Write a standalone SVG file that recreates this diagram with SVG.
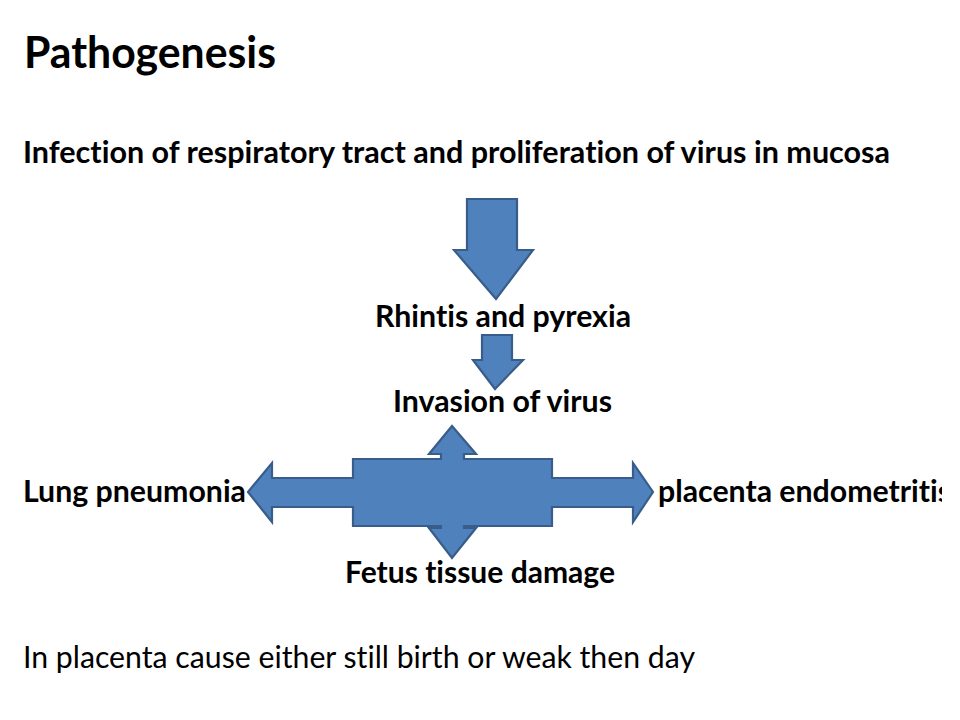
<svg xmlns="http://www.w3.org/2000/svg" width="960" height="720" viewBox="0 0 960 720">
  <defs>
    <style>
      .t { font-family: Lato, "Open Sans", "Liberation Sans", sans-serif; fill: #000; font-variant-ligatures: none; font-feature-settings: "liga" 0, "clig" 0; }
      .b { font-weight: bold; font-size: 31px; }
      .h { font-weight: bold; font-size: 44px; }
      .r { font-weight: normal; font-size: 31px; }
      .arrow { fill: #4F81BD; stroke: #385D8A; stroke-width: 2.2; stroke-linejoin: miter; }
    </style>
    <clipPath id="slideClip">
      <rect x="0" y="0" width="942" height="720"/>
    </clipPath>
  </defs>
  <rect x="0" y="0" width="960" height="720" fill="#ffffff"/>

  <g id="title">
    <text class="t h" x="24" y="68" textLength="252" lengthAdjust="spacingAndGlyphs">Pathogenesis</text>
  </g>

  <g id="connectors">
    <path class="arrow" d="M467,199 L517,199 L517,250 L533,250 L496,299 L454,250 L467,250 Z"/>
    <path class="arrow" d="M482,335 L512,335 L512,360 L523,360 L495,389 L473,360 L482,360 Z"/>
    <path class="arrow" d="M248,492 L272,463 L272,478 L353,478 L353,459 L441,459 L441,454 L429,454 L452,426 L476,454 L464,454 L464,459 L552,459 L552,478 L633,478 L633,463 L653,492 L633,522 L633,507 L552,507 L552,526 L464,526 L464,528 L476,528 L452,558 L429,528 L441,528 L441,526 L353,526 L353,507 L272,507 L272,522 Z"/>
  </g>

  <g id="node-infection">
    <text class="t b" x="23" y="163" textLength="867" lengthAdjust="spacingAndGlyphs">Infection of respiratory tract and proliferation of virus in mucosa</text>
  </g>
  <g id="node-rhintis">
    <text class="t b" x="375" y="327" textLength="256" lengthAdjust="spacingAndGlyphs">Rhintis and pyrexia</text>
  </g>
  <g id="node-invasion">
    <text class="t b" x="393" y="412" textLength="219" lengthAdjust="spacingAndGlyphs">Invasion of virus</text>
  </g>
  <g id="node-lung">
    <text class="t b" x="23" y="502" textLength="223" lengthAdjust="spacingAndGlyphs">Lung pneumonia</text>
  </g>
  <g id="node-placenta" clip-path="url(#slideClip)">
    <text class="t b" x="658" y="502" textLength="293" lengthAdjust="spacingAndGlyphs">placenta endometritis</text>
  </g>
  <g id="node-fetus">
    <text class="t b" x="345" y="583" textLength="270" lengthAdjust="spacingAndGlyphs">Fetus tissue damage</text>
  </g>
  <g id="note">
    <text class="t r" x="23" y="668" textLength="672" lengthAdjust="spacingAndGlyphs">In placenta cause either still birth or weak then day</text>
  </g>
</svg>
